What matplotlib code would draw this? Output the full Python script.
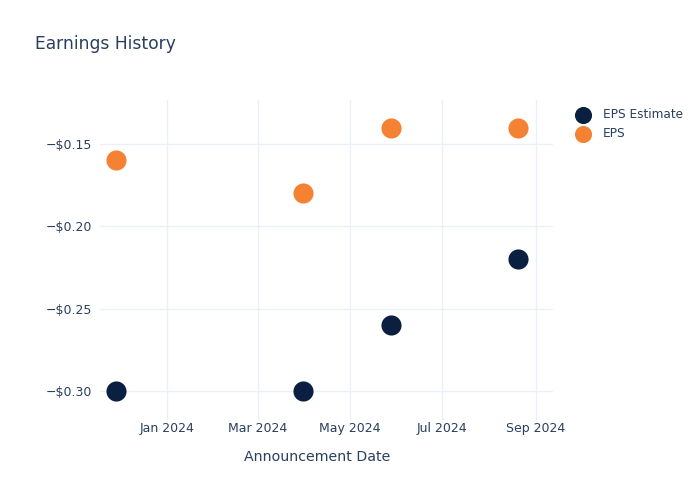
import matplotlib
matplotlib.use("Agg")
import matplotlib.pyplot as plt
import matplotlib.dates as mdates
import datetime as dt

dates = ["2023-11-28", "2024-03-31", "2024-05-28", "2024-08-20"]
eps_estimate = [-0.30, -0.30, -0.26, -0.22]
eps_actual = [-0.16, -0.18, -0.14, -0.14]
y_ticks = [-0.30, -0.25, -0.20, -0.15]
y_tick_labels = ["\u2212$0.30", "\u2212$0.25", "\u2212$0.20", "\u2212$0.15"]

x = [dt.datetime.strptime(d, "%Y-%m-%d") for d in dates]

text_color = "#2a3f5f"
grid_color = "#ebf0f8"

fig = plt.figure(figsize=(7, 5), dpi=100)
ax = fig.add_axes([100/700, 1-420/500, 453/700, 320/500])

ax.scatter(x, eps_estimate, s=210, color="#0b1f41", label="EPS Estimate", zorder=3, linewidths=0)
ax.scatter(x, eps_actual, s=210, color="#f58233", label="EPS", zorder=3, linewidths=0)

ax.set_xlim(dt.datetime(2023, 11, 17, 8), dt.datetime(2024, 9, 12, 12))
ax.set_ylim(-0.3176, -0.1233)
ax.set_yticks(y_ticks)
ax.set_yticklabels(y_tick_labels)
ax.xaxis.set_major_locator(mdates.MonthLocator(bymonth=[1, 3, 5, 7, 9]))
ax.xaxis.set_major_formatter(mdates.DateFormatter("%b %Y"))

for s in ax.spines.values():
    s.set_visible(False)
ax.grid(True, color=grid_color, linewidth=1)
ax.set_axisbelow(True)
ax.tick_params(axis="both", length=0, labelsize=9, colors=text_color, pad=6)
ax.tick_params(axis="x", pad=1.5)
ax.set_xlabel("Announcement Date", fontsize=10.2, color=text_color, labelpad=11)
ax.xaxis.label.set_x((317 - 100) / 453)

fig.text(35/700, 1-44/500, "Earnings History", fontsize=12.3, color=text_color, va="center", ha="left")

leg = ax.legend(loc="upper left", bbox_to_anchor=(566/700, 1-103/500), bbox_transform=fig.transFigure,
                frameon=False, fontsize=8.7, labelcolor=text_color, handletextpad=0.65,
                borderaxespad=0, labelspacing=0.55, markerscale=0.85)

fig.savefig("out.png", dpi=100, facecolor="white")
